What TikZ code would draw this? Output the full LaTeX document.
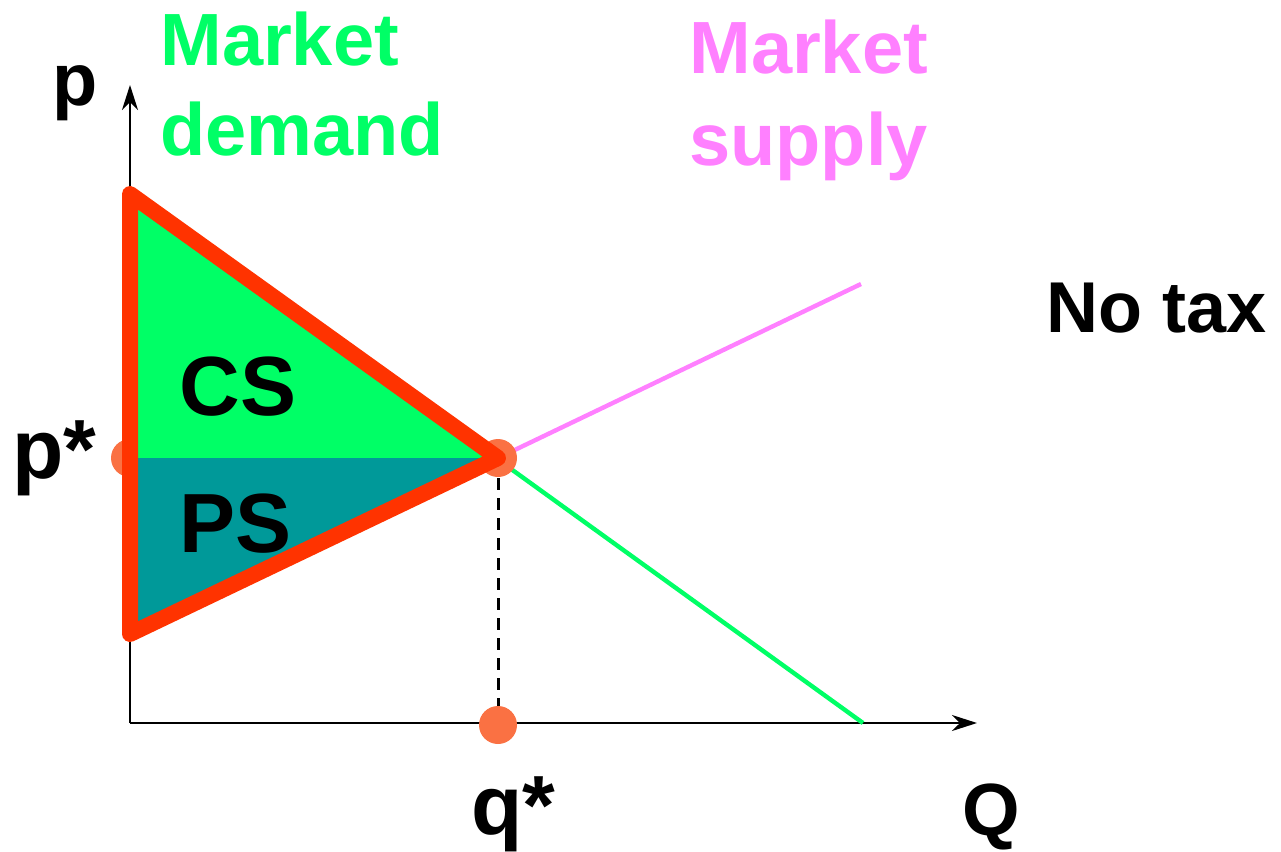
\documentclass[tikz,border=0pt]{standalone}
\usepackage{fontspec}
\setmainfont{Liberation Sans}
\usetikzlibrary{arrows.meta}
\definecolor{mktGreen}{HTML}{00FF66}
\definecolor{mktPink}{HTML}{FF80FF}
\definecolor{mktRed}{HTML}{FF3300}
\definecolor{mktTeal}{HTML}{009999}
\definecolor{mktDot}{HTML}{FA7143}

\begin{document}
\begin{tikzpicture}[
    x=0.5pt, y=-0.5pt,
    font=\bfseries,
    >={Stealth[length=12.5pt, width=8pt, inset=4pt]},
    axis/.style={->, line width=1pt, draw=black},
    curve/.style={line width=2.2pt},
    dot/.style={fill=mktDot},
    label/.style={anchor=base west, inner sep=0pt},
    big/.style={font=\fontsize{37}{44}\selectfont\bfseries},
    huge/.style={font=\fontsize{42}{50}\selectfont\bfseries},
]
\useasboundingbox (0,0) rectangle (1281,852);

% key points of the market
\coordinate (origin) at (130,723);
\coordinate (ytip) at (130,85);
\coordinate (xtip) at (977,723);
\coordinate (dtop) at (130,194);
\coordinate (sbot) at (130,634);
\coordinate (eq) at (498,458);
\coordinate (dend) at (863,723);
\coordinate (send) at (861,284);
\coordinate (pstar) at (130,458);
\coordinate (qstar) at (498,725);

% axes
\draw[axis] (origin) -- (ytip);
\draw[axis] (origin) -- (xtip);

% demand and supply
\draw[curve, mktGreen] (dtop) -- (dend);
\draw[curve, mktPink] (eq) -- (send);
\draw[line width=1.5pt, dash pattern=on 6pt off 4pt] (eq) -- (qstar);

% equilibrium dots
\fill[dot] (pstar) circle (19);
\fill[dot] (eq) circle (19);
\fill[dot] (qstar) circle (19);

% surplus areas
\fill[mktGreen] (dtop) -- (eq) -- (pstar) -- cycle;
\fill[mktTeal] (pstar) -- (eq) -- (sbot) -- cycle;
\draw[line width=8pt, mktRed, line join=round] (dtop) -- (eq) -- (sbot) -- cycle;

% labels
\node[label, big, mktGreen] (dem1) at (160,65) {Market};
\node[label, big, mktGreen] (dem2) at (160,155) {demand};
\node[label, big, mktPink] (sup1) at (689,73) {Market};
\node[label, big, mktPink] (sup2) at (689,165) {supply};
\node[label, font=\fontsize{36}{44}\selectfont\bfseries] (notax) at (1046,332) {No tax};
\node[label, big] (plab) at (52,105) {p};
\node[label, huge] (plabstar) at (12,478) {p*};
\node[label, huge] (qlabstar) at (471,834) {q*};
\node[label, big] (Qlab) at (962,835) {Q};
\node[label, font=\fontsize{42}{50}\selectfont\bfseries] (cs) at (179,415) {CS};
\node[label, font=\fontsize{42}{50}\selectfont\bfseries] (ps) at (179,552) {PS};

\end{tikzpicture}
\end{document}
